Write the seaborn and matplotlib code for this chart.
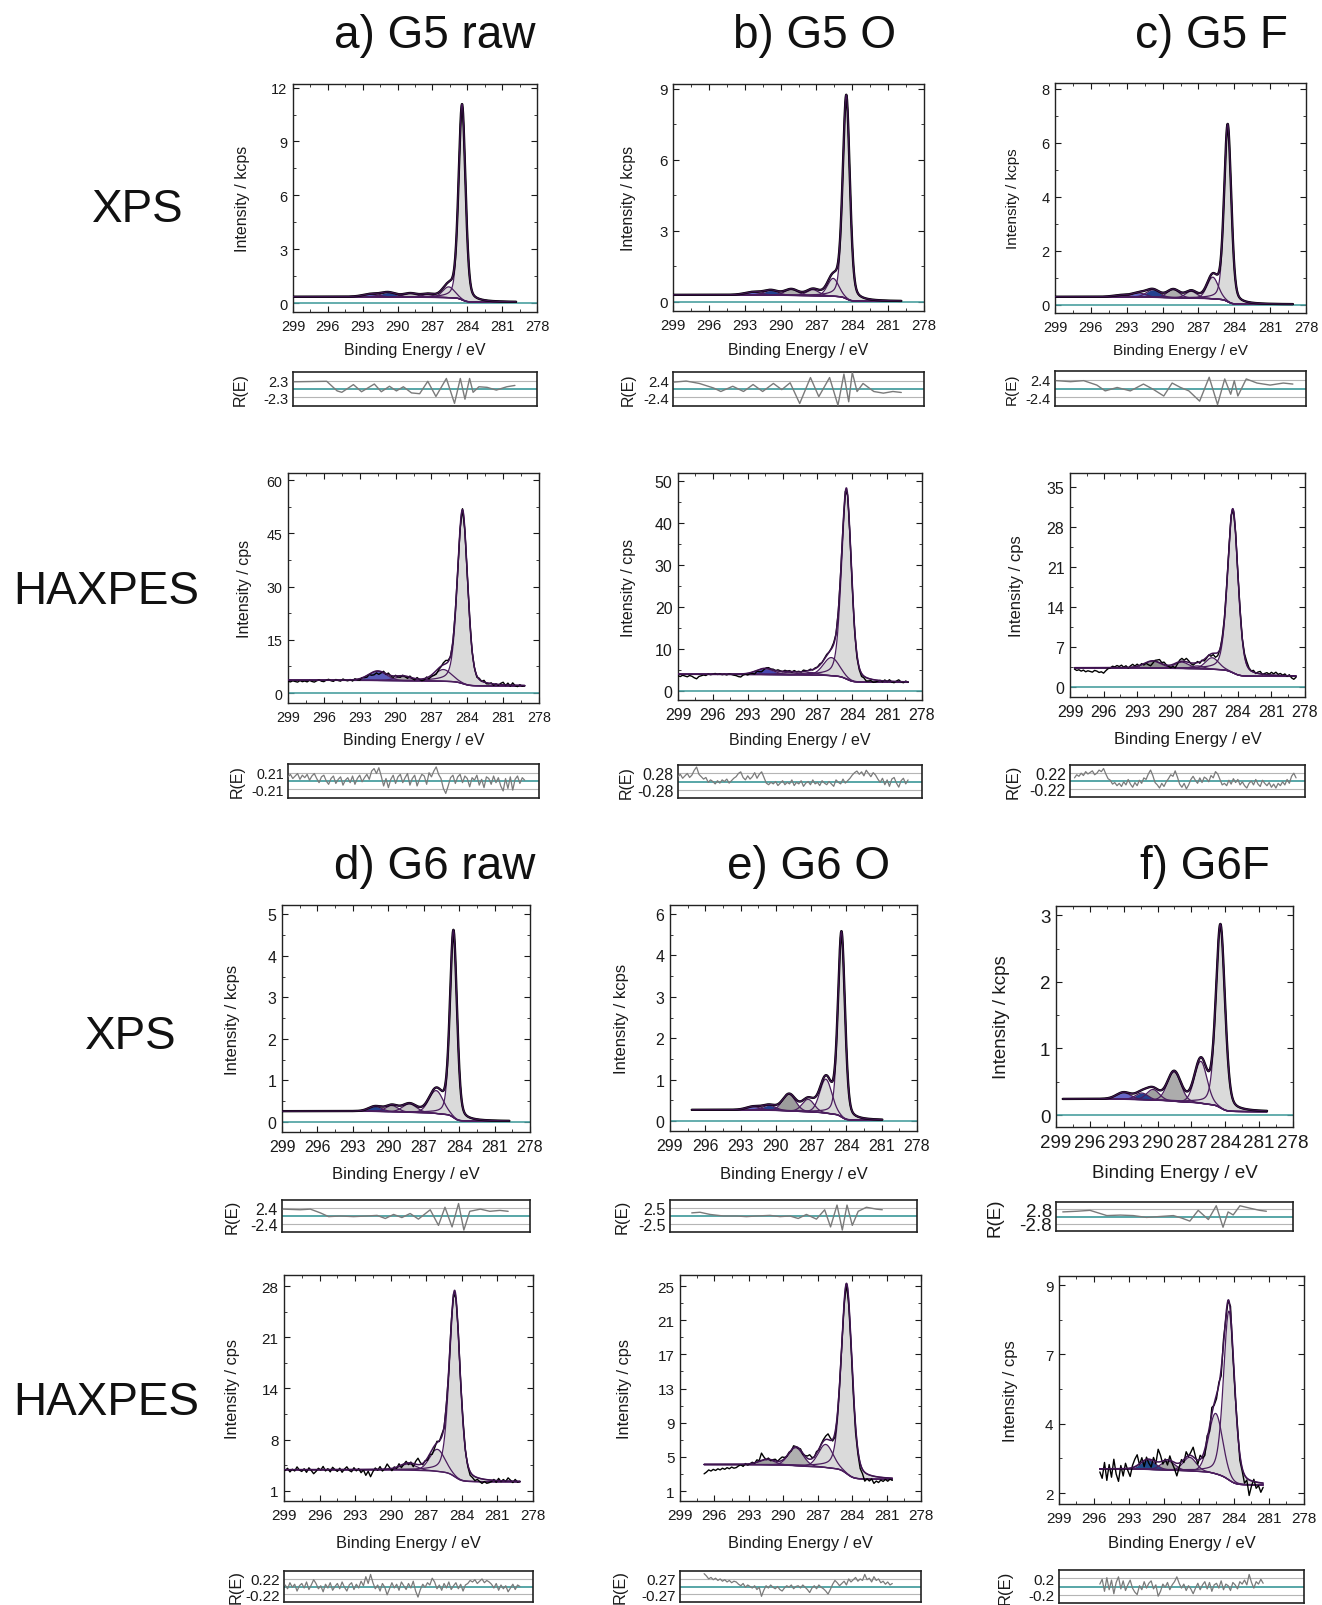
import numpy as np
import matplotlib
matplotlib.use('Agg')
import matplotlib.pyplot as plt
from matplotlib.ticker import FixedLocator, AutoMinorLocator
import seaborn as sns

sns.set_theme(style='ticks')
plt.rcParams['font.family'] = ['Liberation Sans', 'DejaVu Sans']

W, H = 1322, 1606

# ---------------- data ----------------
# fitted components: centre (eV), height above background, fwhm (eV)
# background: [value at high BE end, value at low BE end]; span: data range in eV

# a) G5 raw - XPS
a_xps_centre = [284.45, 285.6, 287.4, 288.9, 290.8, 292.3]
a_xps_height = [10.85, 0.6, 0.15, 0.2, 0.25, 0.15]
a_xps_fwhm = [0.7, 1.2, 1.2, 1.4, 1.5, 1.6]
a_xps_bg = [0.35, 0.05]
a_xps_span = [299.0, 279.8]
a_xps_res_be = [298.9, 296.1, 295.2, 294.8, 293.8, 293.1, 292.0, 291.4, 290.7, 290.1, 289.5, 288.8, 288.1,
                287.4, 286.7, 285.8, 285.1, 284.6, 284.2, 283.8, 283.5, 283.0, 282.3, 281.5, 280.6, 279.9]
a_xps_res = [0.87, 0.93, -0.23, -0.4, 0.53, -0.33, 0.6, -0.33, 0.33, -0.23, 0.27, -0.47, -0.57,
             0.93, -0.9, 1.27, -1.73, 1.27, -1.23, 1.27, -0.4, 0.27, 0.2, -0.13, 0.27, 0.43]
a_xps_bound = 2.3

# b) G5 O - XPS
b_xps_centre = [284.5, 285.6, 287.3, 289.1, 290.8, 292.3]
b_xps_height = [8.55, 0.75, 0.25, 0.25, 0.2, 0.12]
b_xps_fwhm = [0.7, 1.1, 1.2, 1.3, 1.4, 1.6]
b_xps_bg = [0.3, 0.03]
b_xps_span = [299.0, 279.9]
b_xps_res_be = [298.9, 297.9, 296.8, 295.6, 295.0, 294.0, 293.1, 292.3, 291.5, 290.6, 289.9, 289.2, 288.4,
                287.5, 286.8, 285.9, 285.2, 284.7, 284.3, 284.0, 283.6, 283.1, 282.2, 281.4, 280.6, 279.9]
b_xps_res = [0.83, 0.96, 0.67, 0.12, -0.3, 0.33, -0.3, 0.54, -0.3, 0.67, -0.08, 0.75, -1.75,
             1.38, -0.92, 1.38, -1.96, 1.8, -1.54, 2.0, -0.3, 0.67, -0.3, -0.5, -0.3, -0.42]
b_xps_bound = 2.4

# c) G5 F - XPS
c_xps_centre = [284.55, 285.8, 287.6, 289.1, 290.8, 292.0, 293.5]
c_xps_height = [6.55, 0.8, 0.25, 0.3, 0.28, 0.15, 0.06]
c_xps_fwhm = [0.7, 1.1, 1.1, 1.2, 1.3, 1.4, 1.4]
c_xps_bg = [0.3, 0.02]
c_xps_span = [299.0, 279.1]
c_xps_res_be = [298.9, 297.7, 296.6, 295.5, 294.8, 293.8, 292.7, 291.6, 290.8, 289.9, 289.2, 288.5, 287.8,
                286.9, 286.1, 285.4, 284.8, 284.3, 284.0, 283.7, 283.0, 282.1, 281.0, 279.9, 279.1]
c_xps_res = [0.92, 0.8, 0.92, 0.4, -0.28, 0.12, -0.28, 0.52, -0.08, -0.88, 0.64, 0.12, -0.28,
             -1.48, 1.32, -1.88, 1.12, -0.68, 0.92, -0.88, 1.12, 0.64, 0.4, 0.64, 0.52]
c_xps_bound = 2.4

# a) G5 raw - HAXPES (residual noise in tenths of the R(E) bound, 0.2 eV steps)
a_hax_centre = [284.4, 286.0, 289.4, 291.5]
a_hax_height = [48.8, 3.3, 1.2, 2.6]
a_hax_fwhm = [1.0, 1.6, 1.6, 1.8]
a_hax_bg = [3.6, 2.0]
a_hax_span = [299.0, 279.2]
a_hax_noise = [5, 8, 3, 6, 9, 2, 7, 4, 8, 1, 6, 9, 3, -2, 5, 7, 0, -4, 3, 6,
               -3, 2, 5, -5, 1, 4, -2, 6, -4, 3, 7, -1, 4, 8, 2, 12, 15, 9, 16, 6,
               -6, 3, -8, 2, 7, -3, 5, 8, -2, 4, 9, -5, 3, 7, -6, 2, 8, 6, -4, 10,
               5, 12, 17, 8, 3, -9, -15, -6, 4, 7, -3, 5, 8, -2, 6, 3, -7, 4, 1, 7,
               -5, 2, -8, 5, 3, -4, 6, -2, 4, -6, -12, 3, -9, 5, -11, 2, 6, -3, 4, 1]
a_hax_bound = 0.21

# b) G5 O - HAXPES
b_hax_centre = [284.5, 285.8, 287.6, 289.5, 291.5]
b_hax_height = [44.7, 4.3, 0.6, 0.6, 1.4]
b_hax_fwhm = [1.0, 1.6, 1.5, 1.6, 1.8]
b_hax_bg = [4.0, 2.1]
b_hax_span = [299.0, 279.2]
b_hax_noise = [6, 9, 4, 7, 10, 5, 8, 14, 18, 9, 6, 3, 5, -1, 2, 0, -3, 1, -2, 2,
               0, 3, -2, 1, 4, 6, 10, 12, 5, 2, 7, 3, 6, 11, 4, 9, 12, 5, -2, -4,
               -1, -3, 0, -5, -2, 1, -4, -1, -3, 2, -5, -1, -3, 1, -6, -2, 0, -4, 2, -3,
               -1, -5, 1, -2, -4, 0, -3, -6, 2, -1, -3, 3, -2, 1, 4, 8, 11, 13, 9, 12,
               7, 14, 10, 6, 11, 8, 3, -1, 4, -4, 2, -6, 3, 5, -2, -7, 1, 4, -3, 2]
b_hax_bound = 0.28

# c) G5 F - HAXPES
c_hax_centre = [284.45, 286.3, 287.6, 289.0, 291.6]
c_hax_height = [28.6, 2.0, 0.5, 1.1, 1.2]
c_hax_fwhm = [1.1, 1.4, 1.3, 1.5, 1.8]
c_hax_bg = [3.4, 1.9]
c_hax_span = [298.6, 278.8]
c_hax_noise = [4, 8, 6, 10, 7, 12, 9, 11, 13, 8, 10, 14, 12, 16, 9, 3, 1, -4, -2, -6,
               -3, -7, -1, -5, 2, -4, -8, -2, -6, 1, -3, 4, 2, 9, 14, 7, -2, -5, -9, -3,
               -7, -1, 3, 8, 6, 13, 5, -4, -8, -3, -10, -5, 2, 6, 1, -3, 4, -2, 5, 3,
               -1, 7, 4, 12, 9, 2, -5, -3, -6, 1, -4, 3, -2, 2, -5, -1, -6, -9, -3, 0,
               -5, 2, -4, -7, 1, -3, -6, -2, -8, -4, -9, -3, -6, -1, -5, 2, -3, 6, 10, 4]
c_hax_bound = 0.22

# d) G6 raw - XPS
d_xps_centre = [284.48, 285.95, 288.2, 289.7, 291.1]
d_xps_height = [4.48, 0.55, 0.2, 0.15, 0.12]
d_xps_fwhm = [0.7, 1.4, 1.4, 1.2, 1.3]
d_xps_bg = [0.26, 0.02]
d_xps_span = [299.0, 279.75]
d_xps_res_be = [298.9, 297.45, 296.6, 295.75, 295.05, 294.05, 292.95, 291.8, 290.95, 290.25, 289.55, 288.85,
                288.15, 287.45, 286.45, 285.75, 285.2, 284.6, 284.05, 283.6, 283.1, 282.2, 281.4, 280.55, 279.85]
d_xps_res = [0.88, 0.8, 0.88, 0.4, -0.08, 0.0, -0.08, 0.0, 0.08, -0.32, 0.2, -0.2,
             0.32, -0.4, 0.8, -1.2, 1.12, -1.4, 1.6, -1.8, 0.6, 0.88, 0.6, 0.72, 0.6]
d_xps_bound = 2.4

# e) G6 O - XPS (axis ticks are evenly spaced, printed as 0 1 2 3 4 6)
e_xps_centre = [284.42, 285.75, 287.25, 288.87, 290.57, 291.9]
e_xps_height = [4.45, 0.82, 0.3, 0.4, 0.12, 0.08]
e_xps_fwhm = [0.7, 1.2, 1.2, 1.3, 1.3, 1.4]
e_xps_bg = [0.27, 0.02]
e_xps_span = [297.15, 280.95]
e_xps_res_be = [297.15, 296.45, 295.6, 294.45, 293.35, 292.5, 291.65, 290.5, 289.65, 288.8, 288.1, 287.4,
                286.55, 285.85, 285.35, 284.8, 284.35, 283.95, 283.5, 283.0, 282.3, 281.45, 280.95]
e_xps_res = [0.4, 0.48, 0.2, 0.0, 0.0, -0.08, 0.0, 0.08, -0.08, 0.0, -0.32, 0.2,
             -0.4, 0.8, -1.4, 1.4, -1.8, 1.4, -1.2, 0.6, 1.12, 0.88, 0.8]
e_xps_bound = 2.5

# f) G6F - XPS
f_xps_centre = [284.43, 286.17, 288.53, 290.4, 291.4, 293.0]
f_xps_height = [2.75, 0.63, 0.44, 0.16, 0.1, 0.1]
f_xps_fwhm = [0.95, 1.3, 1.4, 1.3, 1.3, 1.5]
f_xps_bg = [0.24, 0.05]
f_xps_span = [298.4, 280.3]
f_xps_res_be = [298.4, 297.17, 295.99, 295.1, 294.5, 293.3, 292.16, 290.98, 289.8, 288.6, 287.9,
                287.14, 286.4, 285.5, 284.8, 284.2, 283.75, 283.3, 282.7, 281.8, 280.95, 280.36]
f_xps_res = [0.65, 0.74, 0.87, 0.43, 0.13, 0.2, 0.13, -0.13, 0.0, 0.13, -0.2,
             -0.65, 0.87, -0.43, 1.52, -1.52, 0.65, 0.22, 1.52, 1.17, 0.87, 0.74]
f_xps_bound = 2.8

# d) G6 raw - HAXPES
d_hax_centre = [284.6, 286.07, 288.5]
d_hax_height = [24.3, 2.9, 0.8]
d_hax_fwhm = [1.05, 1.5, 1.6]
d_hax_bg = [3.8, 2.2]
d_hax_span = [298.9, 279.1]
d_hax_noise = [2, -3, 5, -1, 3, -6, 1, 4, -2, 6, -4, 2, 9, 4, -3, 1, -7, 3, -2, 5,
               -5, 0, 4, -3, 6, -1, -6, 2, 5, -4, 3, -2, 7, 1, 13, 4, 16, 5, -3, 2,
               -6, 4, -1, -11, -3, 5, -2, 3, -5, 6, 1, -4, 4, -2, 7, -6, -14, -4, 3, -1,
               5, 2, 11, 6, -3, 2, -5, 4, -2, 6, -4, 1, 5, -3, 3, -6, 2, 4, 8, 6,
               9, 4, 7, 10, 5, 8, 6, 3, -2, 4, -5, 2, -3, 1, -7, -2, 3, -4, 2, 0]
d_hax_bound = 0.22

# e) G6 O - HAXPES
e_hax_centre = [284.48, 286.3, 288.9, 291.4]
e_hax_height = [22.2, 2.7, 2.1, 0.6]
e_hax_fwhm = [1.1, 1.5, 1.5, 1.6]
e_hax_bg = [4.1, 2.37]
e_hax_span = [296.9, 280.5]
e_hax_noise = [17, 14, 10, 12, 9, 11, 8, 10, 7, 9, 6, 8, 5, 7, 6, 3, 1, 4, -1, 2,
               0, -2, 1, -4, -1, -13, -5, 1, -2, 2, -1, -3, 0, -4, -6, -2, 1, -1, 2, -3,
               0, 1, -2, 2, -1, -4, -8, -2, 1, -3, 2, -1, -3, -6, -10, -4, 3, 8, 5, 1,
               4, 7, 2, 10, 6, 9, 12, 7, 10, 8, 16, 9, 11, 6, 13, 8, 10, 5, 7, 3,
               6, 2, 4]
e_hax_bound = 0.27

# f) G6F - HAXPES (axis ticks evenly spaced, printed as 2 4 7 9)
f_hax_centre = [284.43, 285.57, 287.8, 289.66, 291.37]
f_hax_height = [5.6, 2.0, 0.45, 0.3, 0.32]
f_hax_fwhm = [1.1, 1.4, 1.3, 1.4, 1.5]
f_hax_bg = [2.8, 2.27]
f_hax_span = [295.5, 281.5]
f_hax_noise = [3, 9, -6, 11, -4, 8, -9, 5, 12, -3, 7, -5, 2, 8, -2, -7, -10, 1, -4, 6,
               -2, 4, 7, -3, 2, -12, -6, 3, -1, 5, -4, 2, 6, 12, 4, -2, 3, -5, 1, -3,
               -9, -2, 4, -4, 2, 6, -3, 5, -6, 2, 4, -2, 7, -4, 3, 1, -5, 5, 2, -3,
               6, 3, 8, 2, 15, 5, -2, 6, 3, 9, 4]
f_hax_bound = 0.2

column_titles = ['a) G5 raw', 'b) G5 O', 'c) G5 F', 'd) G6 raw', 'e) G6 O', 'f) G6F']
row_labels = ['XPS', 'HAXPES', 'XPS', 'HAXPES']
x_ticks = [299, 296, 293, 290, 287, 284, 281, 278]

# ---------------- styles ----------------
PURPLE = '#4b1d5e'
ENV = '#3f1450'
TEAL = '#4a9fa0'
LIGHT = '#dadada'
MID = '#c6c6c6'
DARK = '#adadad'
NAVY = '#23408f'
VIOLET = '#6666c6'

PANELS = [
    dict(c=a_xps_centre, h=a_xps_height, w=a_xps_fwhm, bg=a_xps_bg, span=a_xps_span,
         res_be=a_xps_res_be, res=a_xps_res, bound=a_xps_bound, unit='kcps',
         ylim=(-0.5, 12.2), yt=[0, 3, 6, 9, 12], ytl=None, zero=True,
         fill=[LIGHT, LIGHT, LIGHT, MID, NAVY, VIOLET],
         box=(293, 85, 537, 313), rbox=(373, 407), ylx=243, xly=350, rlx=240, ts=10.5, ls=11.5),
    dict(c=b_xps_centre, h=b_xps_height, w=b_xps_fwhm, bg=b_xps_bg, span=b_xps_span,
         res_be=b_xps_res_be, res=b_xps_res, bound=b_xps_bound, unit='kcps',
         ylim=(-0.38, 9.2), yt=[0, 3, 6, 9], ytl=None, zero=True,
         fill=[LIGHT, LIGHT, MID, DARK, NAVY, VIOLET],
         box=(673, 85, 924, 312), rbox=(373, 407), ylx=628, xly=351, rlx=628, ts=10.8, ls=11.4),
    dict(c=c_xps_centre, h=c_xps_height, w=c_xps_fwhm, bg=c_xps_bg, span=c_xps_span,
         res_be=c_xps_res_be, res=c_xps_res, bound=c_xps_bound, unit='kcps',
         ylim=(-0.3, 8.22), yt=[0, 2, 4, 6, 8], ytl=None, zero=True,
         fill=[LIGHT, LIGHT, MID, DARK, NAVY, VIOLET, '#b04a9a'],
         box=(1055, 84, 1306, 314), rbox=(372, 407), ylx=1013, xly=351, rlx=1012, ts=10.5, ls=11),
    dict(c=a_hax_centre, h=a_hax_height, w=a_hax_fwhm, bg=a_hax_bg, span=a_hax_span,
         noise=a_hax_noise, scale=0.06, bound=a_hax_bound, unit='cps',
         ylim=(-2.8, 62), yt=[0, 15, 30, 45, 60], ytl=None, zero=True,
         fill=[LIGHT, LIGHT, DARK, '#5a5ab8'],
         box=(288, 474, 539, 704), rbox=(765, 799), ylx=244, xly=741, rlx=237, ts=10.3, ls=11.5),
    dict(c=b_hax_centre, h=b_hax_height, w=b_hax_fwhm, bg=b_hax_bg, span=b_hax_span,
         noise=b_hax_noise, scale=0.06, bound=b_hax_bound, unit='cps',
         ylim=(-2.1, 51.9), yt=[0, 10, 20, 30, 40, 50], ytl=None, zero=True,
         fill=[LIGHT, LIGHT, MID, DARK, '#4747b0'],
         box=(678, 474, 922, 701), rbox=(766, 799), ylx=628, xly=741, rlx=626, ts=11.5, ls=11.5),
    dict(c=c_hax_centre, h=c_hax_height, w=c_hax_fwhm, bg=c_hax_bg, span=c_hax_span,
         noise=c_hax_noise, scale=0.06, bound=c_hax_bound, unit='cps',
         ylim=(-1.7, 37.4), yt=[0, 7, 14, 21, 28, 35], ytl=None, zero=True,
         fill=[LIGHT, LIGHT, MID, DARK, '#8e8e8e'],
         box=(1070, 474, 1305, 698), rbox=(766, 798), ylx=1017, xly=740, rlx=1013, ts=11.5, ls=12),
    dict(c=d_xps_centre, h=d_xps_height, w=d_xps_fwhm, bg=d_xps_bg, span=d_xps_span,
         res_be=d_xps_res_be, res=d_xps_res, bound=d_xps_bound, unit='kcps',
         ylim=(-0.24, 5.22), yt=[0, 1, 2, 3, 4, 5], ytl=None, zero=True,
         fill=[LIGHT, LIGHT, MID, DARK, NAVY],
         box=(282, 906, 530, 1133), rbox=(1201, 1233), ylx=233, xly=1175, rlx=232, ts=11.5, ls=12),
    dict(c=e_xps_centre, h=e_xps_height, w=e_xps_fwhm, bg=e_xps_bg, span=e_xps_span,
         res_be=e_xps_res_be, res=e_xps_res, bound=e_xps_bound, unit='kcps',
         ylim=(-0.24, 5.22), yt=[0, 1, 2, 3, 4, 5], ytl=['0', '1', '2', '3', '4', '6'], zero=True,
         fill=[LIGHT, LIGHT, MID, '#9c9c9c', NAVY, VIOLET],
         box=(670, 906, 917, 1132), rbox=(1201, 1233), ylx=622, xly=1175, rlx=622, ts=11.5, ls=12),
    dict(c=f_xps_centre, h=f_xps_height, w=f_xps_fwhm, bg=f_xps_bg, span=f_xps_span,
         res_be=f_xps_res_be, res=f_xps_res, bound=f_xps_bound, unit='kcps',
         ylim=(-0.18, 3.14), yt=[0, 1, 2, 3], ytl=None, zero=True,
         fill=[LIGHT, LIGHT, '#acacac', '#a0a0a0', NAVY, VIOLET],
         box=(1056, 907, 1293, 1128), rbox=(1203, 1232), ylx=1002, xly=1173, rlx=995, ts=13.5, ls=13.5),
    dict(c=d_hax_centre, h=d_hax_height, w=d_hax_fwhm, bg=d_hax_bg, span=d_hax_span,
         noise=d_hax_noise, scale=0.06, bound=d_hax_bound, unit='cps',
         ylim=(-0.32, 29.45), yt=[1, 7.75, 14.5, 21.25, 28], ytl=['1', '8', '14', '21', '28'], zero=False,
         fill=[LIGHT, LIGHT, MID],
         box=(284, 1276, 533, 1502), rbox=(1572, 1603), ylx=232, xly=1544, rlx=236, ts=11, ls=11.8),
    dict(c=e_hax_centre, h=e_hax_height, w=e_hax_fwhm, bg=e_hax_bg, span=e_hax_span,
         noise=e_hax_noise, scale=0.065, bound=e_hax_bound, unit='cps',
         ylim=(-0.17, 26.3), yt=[1, 5, 9, 13, 17, 21, 25], ytl=None, zero=False,
         fill=[LIGHT, LIGHT, '#b0b0b0', '#9e9e9e'],
         box=(680, 1276, 921, 1502), rbox=(1572, 1603), ylx=624, xly=1544, rlx=620, ts=11, ls=11.8),
    dict(c=f_hax_centre, h=f_hax_height, w=f_hax_fwhm, bg=f_hax_bg, span=f_hax_span,
         noise=f_hax_noise, scale=0.035, bound=f_hax_bound, unit='cps',
         ylim=(1.64, 9.2), yt=[2, 4.3, 6.6, 8.9], ytl=['2', '4', '7', '9'], zero=False,
         fill=[LIGHT, LIGHT, MID, '#a8a8a8', '#1f4a8a'],
         box=(1059, 1277, 1304, 1505), rbox=(1571, 1604), ylx=1010, xly=1544, rlx=1005, ts=11, ls=12),
]

title_pos = [(435, 48), (815, 48), (1211, 48), (435, 879), (809, 879), (1205, 879)]
row_pos = [(138, 222), (106, 604), (131, 1049), (106, 1415)]


def pseudo_voigt(x, c, h, w, eta):
    d = 4 * (x - c) ** 2 / w ** 2
    return h * (eta / (1 + d) + (1 - eta) * np.exp(-np.log(2) * d))


def fit_model(x, p):
    comps = [pseudo_voigt(x, c, h, w, 0.3 if i == 0 else 0.1)
             for i, (c, h, w) in enumerate(zip(p['c'], p['h'], p['w']))]
    peaks = np.sum(comps, axis=0)
    # Shirley type step: share of peak area lying at lower binding energy
    cum = np.cumsum(peaks[::-1])[::-1]
    hi, lo = p['bg']
    bg = lo + (hi - lo) * cum / cum[0]
    return comps, bg, bg + peaks


def frac(l, t, r, b):
    return [l / W, 1 - b / H, (r - l) / W, (b - t) / H]


def style_frame(ax, lw=1.0):
    for s in ax.spines.values():
        s.set_visible(True)
        s.set_linewidth(lw)
        s.set_color('#222222')


fig = plt.figure(figsize=(W / 100, H / 100), dpi=100)

for p in PANELS:
    l, t, r, b = p['box']
    ax = fig.add_axes(frac(l, t, r, b))
    rt, rb = p['rbox']
    rax = fig.add_axes(frac(l, rt, r, rb))

    x = np.linspace(p['span'][0], p['span'][1], 1200)
    comps, bg, env = fit_model(x, p)
    for comp, fc in zip(comps, p['fill']):
        ax.fill_between(x, bg, bg + comp, color=fc, lw=0, zorder=1)
    if p['zero']:
        ax.axhline(0, color=TEAL, lw=1.2, zorder=2)
    for comp in comps:
        sns.lineplot(x=x, y=bg + comp, ax=ax, color=PURPLE, lw=0.9, sort=False, estimator=None, zorder=3)
    sns.lineplot(x=x, y=bg, ax=ax, color=PURPLE, lw=1.0, sort=False, estimator=None, zorder=3)

    if 'noise' in p:
        # R(E) is taken as fit minus measurement
        noise = np.array(p['noise'], dtype=float)
        xn = p['span'][0] - 0.2 * np.arange(len(noise))
        _, _, env_n = fit_model(xn, p)
        sns.lineplot(x=xn, y=env_n - noise * p['scale'], ax=ax, color='black', lw=1.0,
                     sort=False, estimator=None, zorder=4)
        sns.lineplot(x=x, y=env, ax=ax, color=ENV, lw=1.1, sort=False, estimator=None, zorder=5)
        sns.lineplot(x=xn, y=noise / 10 * p['bound'], ax=rax, color='#7a7a7a', lw=0.9,
                     sort=False, estimator=None, zorder=4)
    else:
        sns.lineplot(x=x, y=env, ax=ax, color='black', lw=1.7, sort=False, estimator=None, zorder=4)
        sns.lineplot(x=x, y=env, ax=ax, color=ENV, lw=0.9, sort=False, estimator=None, zorder=5)
        sns.lineplot(x=p['res_be'], y=np.array(p['res']) * p['bound'], ax=rax, color='#7a7a7a', lw=1.0,
                     sort=False, estimator=None, zorder=4)

    # main axes
    ax.set_xlim(299, 278)
    ax.set_xticks(x_ticks)
    ax.xaxis.set_minor_locator(FixedLocator(np.arange(299, 277.9, -1.5)))
    ax.set_ylim(*p['ylim'])
    ax.set_yticks(p['yt'])
    if p['ytl'] is not None:
        ax.set_yticklabels(p['ytl'])
    ax.yaxis.set_minor_locator(AutoMinorLocator(2))
    ax.tick_params(which='both', direction='in', top=True, right=True, colors='#1a1a1a',
                   labelsize=p['ts'])
    ax.tick_params(which='major', length=4, width=0.8)
    ax.tick_params(which='minor', length=2, width=0.6)
    ax.tick_params(axis='x', pad=5)
    ax.tick_params(axis='y', pad=4)
    style_frame(ax)
    ax.set_xlabel('Binding Energy / eV', fontsize=p['ls'], color='#1a1a1a')
    ax.set_ylabel('Intensity / ' + p['unit'], fontsize=p['ls'], color='#1a1a1a')
    ax.xaxis.label.set_va('center')
    ax.yaxis.label.set_va('center')
    ax.xaxis.set_label_coords(0.5, -(p['xly'] - b) / (b - t))
    ax.yaxis.set_label_coords((p['ylx'] - l) / (r - l), 0.5)

    # residual strip
    bd = p['bound']
    rax.set_xlim(299, 278)
    rax.set_ylim(-2.05 * bd, 2.05 * bd)
    rax.axhline(bd, color='#b5b5b5', lw=0.8, zorder=1)
    rax.axhline(-bd, color='#b5b5b5', lw=0.8, zorder=1)
    rax.axhline(0, color=TEAL, lw=1.3, zorder=2)
    rax.set_xticks([])
    rax.set_yticks([bd, -bd])
    rax.set_yticklabels([f'{bd:g}', f'{-bd:g}'])
    rax.tick_params(axis='y', length=0, pad=3, labelsize=p['ts'], colors='#1a1a1a')
    style_frame(rax, 1.2)
    rax.set_xlabel('')
    rax.set_ylabel('R(E)', fontsize=p['ls'], color='#1a1a1a')
    rax.yaxis.label.set_va('center')
    rax.yaxis.set_label_coords((p['rlx'] - l) / (r - l), 0.5)

for txt, (tx, ty) in zip(column_titles, title_pos):
    fig.text(tx / W, 1 - ty / H, txt, ha='center', va='baseline', fontsize=33, color='#111111')
for txt, (tx, ty) in zip(row_labels, row_pos):
    fig.text(tx / W, 1 - ty / H, txt, ha='center', va='baseline', fontsize=33, color='#111111')

fig.savefig('out.png', dpi=100, facecolor='white')
